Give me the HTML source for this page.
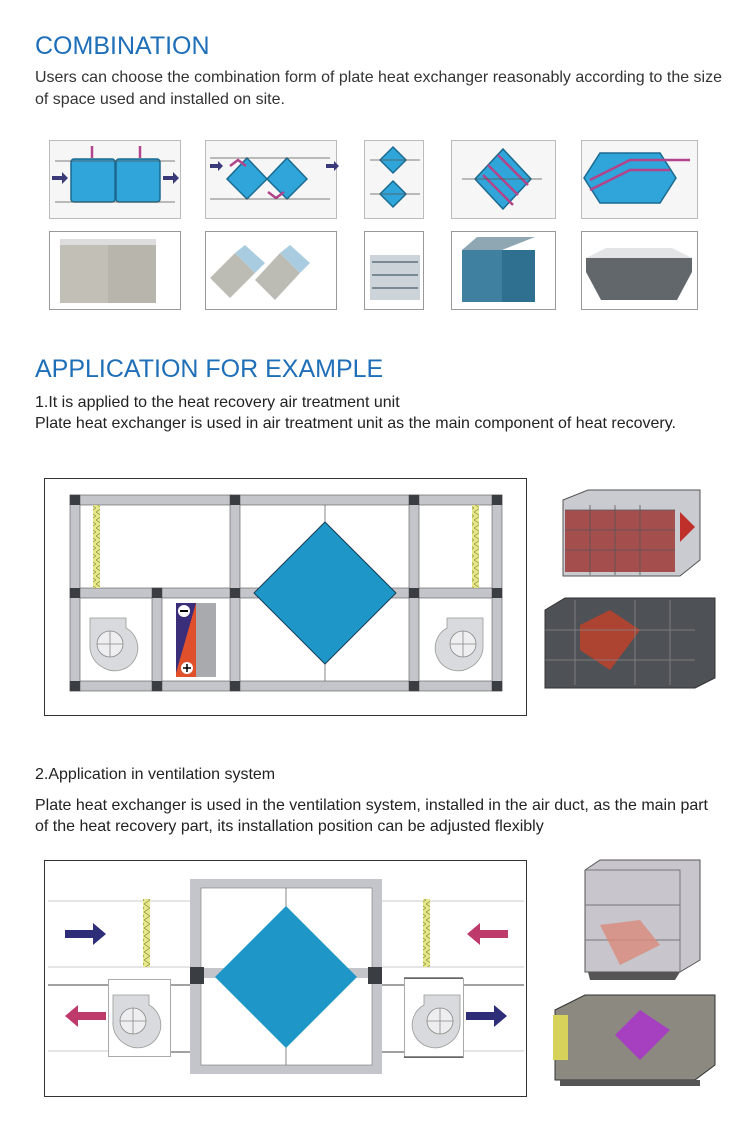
<!DOCTYPE html>
<html><head><meta charset="utf-8"><style>
html,body{margin:0;padding:0;background:#fff}
svg{display:block}
text{font-family:"Liberation Sans",Arial,sans-serif}
</style></head><body>
<svg width="752" height="1141" viewBox="0 0 752 1141" xmlns="http://www.w3.org/2000/svg">
<defs>
<pattern id="mesh" width="6" height="8" patternUnits="userSpaceOnUse"><rect width="6" height="8" fill="#e6e88a"/><path d="M0 0L6 4L0 8" stroke="#8a8a40" stroke-width="0.7" fill="none"/></pattern>
<g id="fan"><path d="M0 0h36v10a22 22 0 0 1 -22 40a24 24 0 0 1 -14 -24z" fill="#d9dadd" stroke="#999" stroke-width="0.8"/><circle cx="20" cy="26" r="13" fill="#eeeef0" stroke="#888" stroke-width="0.8"/><path d="M7 26h26M20 13v26" stroke="#888" stroke-width="0.8"/></g>
</defs>

<text x="35" y="54" font-size="25" fill="#1e6fb8">COMBINATION</text>
<text x="35" y="82" font-size="16" fill="#333" textLength="687" lengthAdjust="spacingAndGlyphs">Users can choose the combination form of plate heat exchanger reasonably according to the size</text>
<text x="35" y="104" font-size="16" fill="#333">of space used and installed on site.</text>

<g stroke="#bbb" fill="#f6f6f7">
<rect x="49.5" y="140.5" width="131" height="78"/>
<rect x="205.5" y="140.5" width="131" height="78"/>
<rect x="364.5" y="140.5" width="59" height="78"/>
<rect x="451.5" y="140.5" width="104" height="78"/>
<rect x="581.5" y="140.5" width="116" height="78"/>
</g>
<g stroke="#1b6a8f" stroke-width="1.5" fill="#2fa5d9">
<rect x="71" y="159" width="44" height="43" rx="3"/><rect x="116" y="159" width="44" height="43" rx="3"/>
<path d="M247 158l20 21l-20 20l-20 -20z"/><path d="M287 158l20 21l-20 20l-20 -20z"/>
<path d="M393 147l13 13l-13 13l-13 -13z"/><path d="M393 181l13 13l-13 13l-13 -13z"/>
<path d="M503 149l28 30l-28 30l-28 -30z"/>
<path d="M600 153h60l16 25l-16 25h-60l-16 -25z"/>
</g>
<g stroke="#b1448a" stroke-width="2.5" fill="none">
<path d="M92 158v-12M140 146v12M230 166l8 -6l8 6M268 192l8 6l8 -6M590 180l40 -20h60M590 190l40 -20h40"/>
<path d="M488 165l30 30M483 175l30 30M498 155l30 30"/>
</g>
<g fill="#3a3a7a"><path d="M52 176h10v-4l6 6l-6 6v-4h-10z"/><path d="M163 176h10v-4l6 6l-6 6v-4h-10z"/><path d="M210 164h8v-3l5 5l-5 5v-3h-8z"/><path d="M326 164h8v-3l5 5l-5 5v-3h-8z"/></g>
<g stroke="#555" stroke-width="0.8"><path d="M55 161h120M55 202h120M210 158h120M210 199h120M370 160h50M370 194h50M462 179h80"/></g>

<g stroke="#999" fill="#fff">
<rect x="49.5" y="231.5" width="131" height="78"/>
<rect x="205.5" y="231.5" width="131" height="78"/>
<rect x="364.5" y="231.5" width="59" height="78"/>
<rect x="451.5" y="231.5" width="104" height="78"/>
<rect x="581.5" y="231.5" width="116" height="78"/>
</g>
<rect x="60" y="243" width="48" height="60" fill="#c2c0b6"/><rect x="108" y="243" width="48" height="60" fill="#b8b6ac"/><rect x="60" y="239" width="96" height="6" fill="#ddd"/>
<path d="M210 278l25 -25l20 20l-25 25z" fill="#bdbcb4"/><path d="M255 280l25 -27l20 20l-25 27z" fill="#bdbcb4"/><path d="M235 253l10 -8l20 18l-10 10z" fill="#a9cce0"/><path d="M280 253l10 -8l20 18l-10 10z" fill="#a9cce0"/>
<rect x="370" y="255" width="50" height="45" fill="#ccd4da"/><path d="M372 262h46M372 275h46M372 288h46" stroke="#7a8a95" stroke-width="2"/>
<rect x="462" y="250" width="40" height="52" fill="#3f7fa0"/><rect x="502" y="250" width="33" height="52" fill="#2f6f90"/><path d="M462 250l15 -13h58l-33 13z" fill="#8fa6b3"/>
<path d="M586 258h106v14l-15 28h-76l-15 -28z" fill="#62676c"/><path d="M586 258l20 -10h66l20 10z" fill="#e2e4e6"/>

<text x="35" y="377" font-size="25" fill="#1e6fb8">APPLICATION FOR EXAMPLE</text>
<text x="35" y="407" font-size="16" fill="#222">1.It is applied to the heat recovery air treatment unit</text>
<text x="35" y="428" font-size="16" fill="#222" textLength="641" lengthAdjust="spacingAndGlyphs">Plate heat exchanger is used in air treatment unit as the main component of heat recovery.</text>

<rect x="44.5" y="478.5" width="482" height="237" fill="#fff" stroke="#333"/>
<g fill="#c3c5ca" stroke="#555" stroke-width="0.6">
<rect x="70" y="495" width="432" height="10"/><rect x="70" y="681" width="432" height="10"/>
<rect x="70" y="588" width="432" height="10"/>
<rect x="70" y="495" width="10" height="196"/><rect x="492" y="495" width="10" height="196"/>
<rect x="230" y="495" width="10" height="196"/><rect x="409" y="495" width="10" height="196"/>
<rect x="152" y="588" width="10" height="103"/>
</g>
<g fill="#3a3d42">
<rect x="70" y="495" width="10" height="10"/><rect x="230" y="495" width="10" height="10"/><rect x="409" y="495" width="10" height="10"/><rect x="492" y="495" width="10" height="10"/>
<rect x="70" y="588" width="10" height="10"/><rect x="152" y="588" width="10" height="10"/><rect x="230" y="588" width="10" height="10"/><rect x="409" y="588" width="10" height="10"/><rect x="492" y="588" width="10" height="10"/>
<rect x="70" y="681" width="10" height="10"/><rect x="152" y="681" width="10" height="10"/><rect x="230" y="681" width="10" height="10"/><rect x="409" y="681" width="10" height="10"/><rect x="492" y="681" width="10" height="10"/>
</g>
<path d="M325 505v176" stroke="#555" stroke-width="0.7"/>
<rect x="93" y="505" width="7" height="83" fill="url(#mesh)"/><rect x="472" y="505" width="7" height="83" fill="url(#mesh)"/>
<path d="M325 522l71 71l-71 71l-71 -71z" fill="#1e97c8" stroke="#173e55"/>
<use href="#fan" x="90" y="618"/>
<g transform="translate(483 618) scale(-1 1)"><use href="#fan"/></g>
<rect x="176" y="603" width="20" height="74" fill="#e0502a"/><path d="M176 603h20l-20 70z" fill="#3a2d7a"/><rect x="196" y="603" width="20" height="74" fill="#a8aaae"/>
<circle cx="184" cy="611" r="6" fill="#fff"/><path d="M180 611h8" stroke="#000" stroke-width="2"/>
<circle cx="187" cy="668" r="6" fill="#fff"/><path d="M183 668h8M187 664v8" stroke="#000" stroke-width="1.5"/>

<g>
<path d="M563 500l25 -10h112v70l-20 16h-117z" fill="#c9cbd0" stroke="#555"/>
<rect x="565" y="510" width="110" height="62" fill="#9e3a36" opacity="0.85"/>
<path d="M565 510h110M565 530h110M565 550h110M590 505v70M615 505v70M640 505v70" stroke="#555" stroke-width="0.8"/>
<path d="M680 512l15 15l-15 15z" fill="#c0302a"/>
<path d="M545 610l20 -12h150v80l-20 10h-150z" fill="#4e5156" stroke="#333"/>
<path d="M580 625l30 -15l30 20l-30 40l-30 -20z" fill="#b8412e" opacity="0.9"/>
<path d="M545 630h150M545 660h150M575 600v85M635 600v85M670 600v85" stroke="#888" stroke-width="0.8"/>
</g>

<text x="35" y="779" font-size="16" fill="#222">2.Application in ventilation system</text>
<text x="35" y="810" font-size="16" fill="#222" textLength="673" lengthAdjust="spacingAndGlyphs">Plate heat exchanger is used in the ventilation system, installed in the air duct, as the main part</text>
<text x="35" y="831" font-size="16" fill="#222">of the heat recovery part, its installation position can be adjusted flexibly</text>

<rect x="44.5" y="860.5" width="482" height="236" fill="#fff" stroke="#333"/>
<g stroke="#bbb" stroke-width="0.8"><path d="M48 901h142M48 967h142M382 901h142M382 967h142M48 1051h60M463 1051h61"/></g>
<g stroke="#444" stroke-width="1"><path d="M48 985h142M382 985h142M170 1052h20M382 1052h23"/></g>
<rect x="190" y="879" width="192" height="195" fill="#c3c5ca"/>
<rect x="201" y="888" width="171" height="177" fill="#fff" stroke="#777" stroke-width="0.6"/>
<path d="M286 888v177" stroke="#555" stroke-width="0.7"/>
<rect x="190" y="968" width="192" height="10" fill="#c3c5ca"/>
<rect x="190" y="967" width="14" height="17" fill="#3a3d42"/><rect x="368" y="967" width="14" height="17" fill="#3a3d42"/>
<path d="M286 906l71 71l-71 71l-71 -71z" fill="#1e97c8"/>
<rect x="143" y="899" width="7" height="68" fill="url(#mesh)"/><rect x="423" y="899" width="7" height="68" fill="url(#mesh)"/>
<rect x="108.5" y="979.5" width="62" height="77" fill="#fff" stroke="#aaa"/>
<rect x="404.5" y="978.5" width="59" height="79" fill="#fff" stroke="#aaa"/><path d="M404 978h59M404 1057h59" stroke="#222"/>
<use href="#fan" x="113" y="995"/>
<g transform="translate(460 995) scale(-1 1)"><use href="#fan"/></g>
<path d="M65 930h28v-7l13 11l-13 11v-7h-28z" fill="#2e2d78"/>
<path d="M508 930h-28v-7l-13 11l13 11v-7h28z" fill="#bd3a6a"/>
<path d="M106 1012h-28v-7l-13 11l13 11v-7h28z" fill="#bd3a6a"/>
<path d="M466 1012h28v-7l13 11l-13 11v-7h-28z" fill="#2e2d78"/>

<path d="M585 870l15 -10h100v100l-20 12h-95z" fill="#c8c5cc" stroke="#555"/>
<path d="M585 870h95v102M585 905h95M585 940h95" stroke="#777" fill="none"/>
<path d="M600 925l40 -5l20 25l-40 20z" fill="#d98a7a" opacity="0.8"/>
<path d="M588 972h92l-5 8h-85z" fill="#555"/>
<path d="M555 1010l30 -15h130v70l-20 15h-140z" fill="#8c8a80" stroke="#333"/>
<rect x="553" y="1015" width="15" height="45" fill="#d7d25a"/>
<path d="M640 1010l30 20l-30 30l-25 -25z" fill="#a640c0"/>
<path d="M560 1080h140v6h-140z" fill="#555"/>
</svg>
</body></html>
